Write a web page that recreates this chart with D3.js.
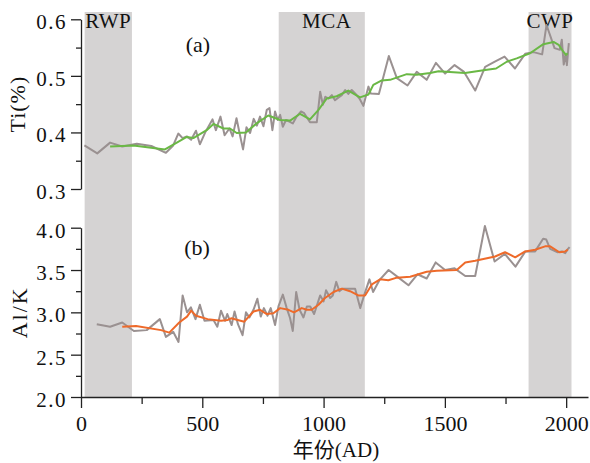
<!DOCTYPE html>
<html>
<head>
<meta charset="utf-8">
<script src="https://cdn.jsdelivr.net/npm/d3@7"></script>
<style>
  body { margin: 0; background: #fff; }
  svg text { font-family: "Liberation Serif", "Times New Roman", "Noto Sans CJK SC", serif; fill: #111; }
</style>
</head>
<body>
<div id="chart"></div>
<script>
// warm periods (years AD)
const bandNames = ['RWP', 'MCA', 'CWP'];
const bandStart = [15, 815, 1845];
const bandEnd = [210, 1170, 2022];

// (a) Ti (%)
const tiYears = [14, 67, 120, 170, 230, 290, 350, 380, 401, 419, 436, 454, 474, 490, 513, 542, 556, 575, 592, 612,
  625, 641, 655, 668, 682, 697, 712, 725, 738, 752, 766, 777, 789, 800, 811, 821, 832, 845, 859, 873,
  889, 907, 920, 944, 972, 986, 997, 1007, 1020, 1034, 1047, 1062, 1075, 1089, 1102, 1116, 1130, 1148, 1164, 1185,
  1194, 1228, 1269, 1302, 1346, 1384, 1425, 1463, 1501, 1540, 1579, 1625, 1666, 1706, 1746, 1789, 1831, 1865, 1901, 1919,
  1952, 1974, 1982, 1990, 1997, 2003, 2011];
const tiRaw = [0.377, 0.363, 0.382, 0.375, 0.380, 0.376, 0.364, 0.377, 0.398, 0.390, 0.393, 0.387, 0.403, 0.379, 0.401, 0.423, 0.404, 0.428, 0.395, 0.407,
  0.393, 0.425, 0.396, 0.370, 0.409, 0.399, 0.424, 0.412, 0.428, 0.411, 0.440, 0.443, 0.404, 0.437, 0.422, 0.431, 0.410, 0.422, 0.419, 0.416,
  0.428, 0.437, 0.434, 0.418, 0.418, 0.472, 0.449, 0.463, 0.460, 0.466, 0.457, 0.462, 0.466, 0.475, 0.468, 0.475, 0.469, 0.460, 0.447, 0.481,
  0.469, 0.468, 0.535, 0.496, 0.483, 0.507, 0.493, 0.523, 0.504, 0.519, 0.507, 0.474, 0.516, 0.525, 0.534, 0.513, 0.539, 0.542, 0.538, 0.590,
  0.549, 0.546, 0.564, 0.520, 0.538, 0.519, 0.558];
const tiSmoothYears = [120, 216, 346, 395, 436, 463, 518, 546, 587, 614, 642, 680, 724, 772, 821, 862, 903, 944, 979, 1013,
  1054, 1102, 1150, 1185, 1205, 1240, 1274, 1343, 1384, 1439, 1474, 1583, 1659, 1711, 1755, 1796, 1851, 1906, 1948, 1969,
  1986, 1999, 2006];
const tiSmooth = [0.375, 0.377, 0.370, 0.382, 0.392, 0.390, 0.404, 0.415, 0.407, 0.407, 0.399, 0.400, 0.416, 0.430, 0.422, 0.421, 0.433, 0.423, 0.440, 0.460,
  0.464, 0.474, 0.462, 0.467, 0.484, 0.492, 0.493, 0.503, 0.502, 0.505, 0.508, 0.505, 0.510, 0.513, 0.525, 0.531, 0.540, 0.556, 0.560, 0.555,
  0.544, 0.537, 0.540];

// (b) Al/K
const akYears = [65, 120, 170, 218, 271, 325, 350, 380, 402, 419, 437, 453, 472, 490, 509, 546, 562, 577, 594, 603,
  621, 633, 647, 666, 680, 694, 711, 727, 741, 754, 769, 782, 800, 814, 832, 848, 862, 873, 887, 901,
  917, 931, 945, 961, 986, 1000, 1010, 1027, 1038, 1052, 1065, 1079, 1130, 1151, 1167, 1189, 1204, 1230, 1268, 1309,
  1350, 1387, 1425, 1462, 1501, 1540, 1584, 1625, 1665, 1705, 1747, 1791, 1832, 1872, 1905, 1918, 1934, 1965, 1982, 1996,
  2005, 2014];
const akRaw = [2.86, 2.83, 2.88, 2.78, 2.79, 2.92, 2.71, 2.77, 2.65, 3.20, 3.00, 3.06, 2.92, 3.09, 2.90, 2.91, 2.83, 3.02, 2.90, 2.98,
  2.85, 3.01, 2.86, 2.73, 3.00, 2.94, 3.03, 3.16, 2.95, 3.05, 2.96, 3.05, 2.85, 3.07, 3.21, 3.05, 2.93, 2.78, 3.24, 3.03,
  2.94, 3.07, 3.07, 2.98, 3.20, 3.13, 3.26, 3.17, 3.20, 3.36, 3.25, 3.28, 3.28, 3.05, 3.20, 3.39, 3.24, 3.38, 3.50, 3.41,
  3.32, 3.45, 3.40, 3.59, 3.50, 3.52, 3.43, 3.43, 4.02, 3.60, 3.69, 3.54, 3.72, 3.72, 3.87, 3.86, 3.75, 3.71, 3.72, 3.70,
  3.74, 3.77];
const akSmoothYears = [170, 227, 330, 364, 405, 437, 454, 474, 522, 577, 605, 619, 646, 673, 711, 738, 766, 793, 821, 855,
  878, 910, 931, 951, 979, 1006, 1041, 1075, 1109, 1143, 1171, 1199, 1233, 1267, 1302, 1357, 1425, 1467, 1549, 1584,
  1625, 1707, 1748, 1790, 1831, 1872, 1913, 1934, 1972, 1996, 2007];
const akSmooth = [2.83, 2.84, 2.79, 2.76, 2.88, 2.95, 3.02, 2.96, 2.92, 2.90, 2.91, 2.93, 2.91, 2.89, 3.01, 3.03, 2.98, 2.99, 3.05, 3.03,
  3.00, 3.05, 3.03, 3.03, 3.09, 3.17, 3.24, 3.28, 3.25, 3.20, 3.20, 3.33, 3.39, 3.38, 3.41, 3.42, 3.48, 3.49, 3.50, 3.59,
  3.61, 3.66, 3.71, 3.65, 3.72, 3.74, 3.78, 3.78, 3.71, 3.72, 3.74];

const xMajor = [0, 500, 1000, 1500, 2000];
const xMinor = [250, 750, 1250, 1750];
const tiMajor = [0.3, 0.4, 0.5, 0.6];
const tiMinor = [0.35, 0.45, 0.55];
const akMajor = [2.0, 2.5, 3.0, 3.5, 4.0];
const akMinor = [2.25, 2.75, 3.25, 3.75];

const W = 590, H = 463;
const svg = d3.select('#chart').append('svg')
  .attr('width', W).attr('height', H);

const x = d3.scaleLinear().domain([0, 2090]).range([81, 588]);
const yTi = d3.scaleLinear().domain([0.3, 0.6]).range([189, 19.3]);
const yAk = d3.scaleLinear().domain([2.0, 4.0]).range([397, 227.7]);

// shaded periods
const bands = bandNames.map((n, i) => ({ name: n, s: bandStart[i], e: bandEnd[i] }));
svg.append('g').selectAll('rect').data(bands).join('rect')
  .attr('x', d => x(d.s))
  .attr('width', d => x(d.e) - x(d.s))
  .attr('y', 12)
  .attr('height', yAk(2.0) - 12)
  .attr('fill', '#d5d3d3');

svg.append('g').selectAll('text').data(bands).join('text')
  .attr('x', d => x((d.s + d.e) / 2) + (d.name === 'MCA' ? 5 : 0))
  .attr('y', 28)
  .attr('text-anchor', 'middle')
  .style('font-size', '21px')
  .style('letter-spacing', '0.5px')
  .text(d => d.name);

// lines
function drawLine(xs, ys, yScale, color) {
  const pts = xs.map((v, i) => [v, ys[i]]);
  svg.append('path')
    .datum(pts)
    .attr('fill', 'none')
    .attr('stroke', color)
    .attr('stroke-width', 2)
    .attr('stroke-linejoin', 'round')
    .attr('d', d3.line().x(d => x(d[0])).y(d => yScale(d[1])));
}
drawLine(tiYears, tiRaw, yTi, '#9a9191');
drawLine(tiSmoothYears, tiSmooth, yTi, '#6ab845');
drawLine(akYears, akRaw, yAk, '#9a9191');
drawLine(akSmoothYears, akSmooth, yAk, '#ee6a2a');

// axes
function yAxis(scale, major, minor, fmt) {
  const g = svg.append('g').attr('transform', `translate(${x(0)},0)`);
  g.call(d3.axisLeft(scale).tickValues(minor).tickSize(5).tickFormat(''))
    .call(a => a.select('.domain').remove());
  const g2 = svg.append('g').attr('transform', `translate(${x(0)},0)`);
  g2.call(d3.axisLeft(scale).tickValues(major).tickSize(10).tickSizeOuter(0).tickPadding(4).tickFormat(d3.format(fmt)));
  g2.selectAll('text').attr('dy', '0.45em').style('font-size', '21px').style('letter-spacing', '1.5px');
  [g, g2].forEach(a => a.selectAll('line, path').attr('stroke', '#222').attr('stroke-width', 1.3));
}
yAxis(yTi, tiMajor, tiMinor, '.1f');
yAxis(yAk, akMajor, akMinor, '.1f');

const gxMinor = svg.append('g').attr('transform', `translate(0,${yAk(2.0)})`)
  .call(d3.axisBottom(x).tickValues(xMinor).tickSize(7).tickFormat(''));
gxMinor.select('.domain').remove();
const gx = svg.append('g').attr('transform', `translate(0,${yAk(2.0)})`)
  .call(d3.axisBottom(x).tickValues(xMajor).tickSize(11).tickSizeOuter(0).tickFormat(d3.format('d')));
gx.selectAll('text').attr('y', 18).style('font-size', '22px');
[gx, gxMinor].forEach(a => a.selectAll('line, path').attr('stroke', '#222').attr('stroke-width', 1.3));

// panel labels
svg.append('text').attr('x', 198).attr('y', 52).attr('text-anchor', 'middle')
  .style('font-size', '22px').text('(a)');
svg.append('text').attr('x', 197).attr('y', 255).attr('text-anchor', 'middle')
  .style('font-size', '22px').text('(b)');

// axis titles
svg.append('text')
  .attr('transform', `translate(25,${(yTi(0.3) + yTi(0.6)) / 2}) rotate(-90)`)
  .attr('text-anchor', 'middle')
  .style('font-size', '22px').style('letter-spacing', '1px')
  .text('Ti(%)');
svg.append('text')
  .attr('transform', `translate(26.5,${(yAk(2.0) + yAk(4.0)) / 2}) rotate(-90)`)
  .attr('text-anchor', 'middle')
  .style('font-size', '22px').style('letter-spacing', '2px')
  .text('Al/K');
svg.append('text')
  .attr('x', 336).attr('y', 457)
  .attr('text-anchor', 'middle')
  .style('font-size', '21px')
  .text('年份(AD)');
</script>
</body>
</html>
